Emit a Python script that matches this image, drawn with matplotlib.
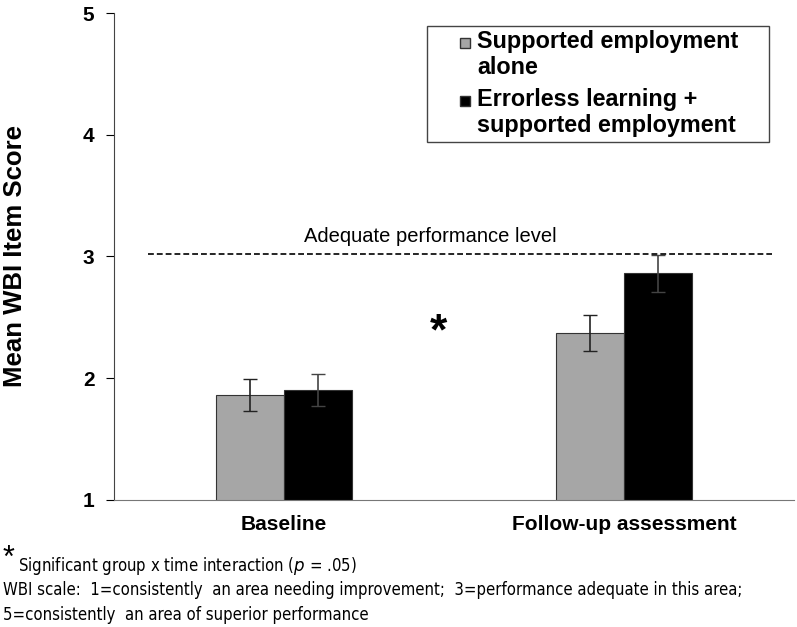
import numpy as np
import matplotlib.pyplot as plt
from matplotlib.patches import Rectangle

plt.rcParams['font.family'] = ['Liberation Sans', 'DejaVu Sans']

groups = ['Baseline', 'Follow-up assessment']
series_names = ['Supported employment\nalone', 'Errorless learning +\nsupported employment']
series_colors = ['#a6a6a6', 'black']
se_alone = [1.86, 2.37]
se_alone_err = [0.13, 0.145]
el_se = [1.90, 2.86]
el_se_err = [0.13, 0.15]
adequate_level = 3.02

fig = plt.figure(figsize=(7.97, 6.27), dpi=100)
ax = fig.add_axes([0.143, 0.203, 0.853, 0.776])

x = np.arange(len(groups))
w = 0.2
ax.bar(x - w / 2, se_alone, w, color=series_colors[0], edgecolor='#333333', linewidth=0.8)
ax.bar(x + w / 2, el_se, w, color=series_colors[1], edgecolor='#333333', linewidth=0.8)
ax.errorbar(x - w / 2, se_alone, yerr=se_alone_err, fmt='none', ecolor='#222222', elinewidth=1.2, capsize=5)
ax.errorbar(x + w / 2, el_se, yerr=el_se_err, fmt='none', ecolor='#444444', elinewidth=1.2, capsize=5)

ax.plot([-0.4, 1.435], [adequate_level, adequate_level], ls='--', color='black', lw=1.2, dashes=(3.5, 1.8))
ax.text(0.43, 3.165, 'Adequate performance level', ha='center', va='center', fontsize=14.5)
ax.text(0.455, 2.37, '*', ha='center', va='center', fontsize=32, fontweight='bold')

ax.set_ylim(1, 5)
ax.set_xlim(-0.5, 1.5)
ax.set_yticks([1, 2, 3, 4, 5])
ax.set_xticks(x)
ax.set_xticklabels(groups, fontsize=15, fontweight='bold')
ax.tick_params(axis='y', labelsize=15, direction='out', length=6, pad=8)
for lab in ax.get_yticklabels():
    lab.set_fontweight('bold')
ax.tick_params(axis='x', length=0, pad=11)
ax.spines['top'].set_visible(False)
ax.spines['right'].set_visible(False)
ax.spines['left'].set_color('#444444')
ax.spines['bottom'].set_color('#777777')
ax.set_ylabel('Mean WBI Item Score', fontsize=18.5, fontweight='bold', labelpad=40)

# legend drawn by hand: square sits next to the first line of each label
ax.add_patch(Rectangle((0.460, 0.736), 0.504, 0.238, transform=ax.transAxes, fill=False,
                       edgecolor='#444444', linewidth=1.0, clip_on=False))
leg_tops = [0.966, 0.847]
for name, col, top in zip(series_names, series_colors, leg_tops):
    ax.add_patch(Rectangle((0.509, top - 0.038), 0.0147, 0.0206, transform=ax.transAxes,
                           facecolor=col, edgecolor='#333333', linewidth=1.0, clip_on=False))
    ax.text(0.534, top, name, transform=ax.transAxes, ha='left', va='top', fontsize=16.8,
            fontweight='bold', linespacing=1.18)

narrow = ['Liberation Sans Narrow', 'DejaVu Sans']
fig.text(0.003, 0.108, '*', fontsize=22, va='center')
fig.text(0.022, 0.097, 'Significant group x time interaction ($\\it{p}$ = .05)', fontsize=12,
         family=narrow, fontstretch='condensed', va='center')
fig.text(0.004, 0.059, 'WBI scale:  1=consistently  an area needing improvement;  3=performance adequate in this area;',
         fontsize=12, family=narrow, fontstretch='condensed', va='center')
fig.text(0.004, 0.019, '5=consistently  an area of superior performance', fontsize=12,
         family=narrow, fontstretch='condensed', va='center')

fig.savefig('out.png', dpi=100)
